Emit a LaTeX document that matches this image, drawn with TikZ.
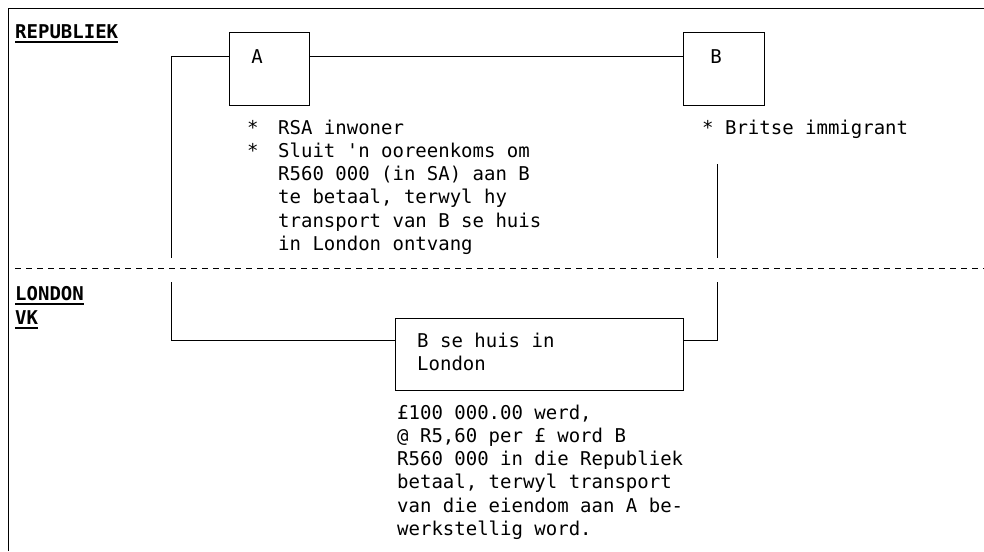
\documentclass[tikz,border=0pt]{standalone}
\usepackage{fontspec}
\setmonofont{DejaVu Sans Mono}
\begin{document}
\begin{tikzpicture}[x=1pt,y=-1pt,
  every node/.style={inner sep=0pt, font=\ttfamily\fontsize{19}{23.3}\selectfont},
  box/.style={draw, line width=1pt, minimum height=72pt},
  conn/.style={line width=1pt},
  frame/.style={line width=1.6pt},
  sepline/.style={line width=1pt, dash pattern=on 6pt off 5pt},
  txt/.style={anchor=base west, align=left},
  hdr/.style={anchor=base west, font=\ttfamily\bfseries\fontsize{19}{23.3}\selectfont},
  uline/.style={line width=1.4pt}]
\useasboundingbox (0,0) rectangle (984,551);
% frame
\coordinate (f1) at (8.5,551);
\coordinate (f2) at (8.5,8.5);
\coordinate (f3) at (984,8.5);
\draw[frame] (f1) -- (f2) -- (f3);
% separator
\coordinate (s1) at (15,268);
\coordinate (s2) at (984,268);
\draw[sepline] (s1) -- (s2);
% headers
\node[hdr] (rep) at (15,38) {REPUBLIEK};
\draw[uline] ([yshift=-4pt]rep.base west) -- ([yshift=-4pt]rep.base east);
\node[hdr] (lon) at (15,300) {LONDON};
\draw[uline] ([yshift=-4pt]lon.base west) -- ([yshift=-4pt]lon.base east);
\node[hdr] (vk) at (15,324) {VK};
\draw[uline] ([yshift=-4pt]vk.base west) -- ([yshift=-4pt]vk.base east);
% boxes
\node[box, minimum width=80pt] (A) at (269,69) {};
\node[box, minimum width=81pt] (B) at (723.5,69) {};
\node[box, minimum width=288pt] (huis) at (539,354) {};
\node (Atxt) at (257,57) {A};
\node (Btxt) at (716,57) {B};
% multi-line texts: anchor is the baseline of the last line
\node[txt] (htxt) at (417,370.3) {B se huis in\\London};
% connectors
\coordinate (aL1) at (171,258);
\coordinate (aL2) at (171,282);
\coordinate (bL1) at (717,164);
\coordinate (bL2) at (717,258);
\coordinate (bL3) at (717,282);
\draw[conn] ([yshift=12pt]A.east) -- ([yshift=12pt]B.west);
\draw[conn] ([yshift=12pt]A.west) -| (aL1);
\draw[conn] (aL2) |- ([yshift=14pt]huis.west);
\draw[conn] (bL1) -- (bL2);
\draw[conn] (bL3) |- ([yshift=14pt]huis.east);
% texts
\node[txt] (st1) at (247,134) {*};
\node[txt] (st2) at (247,157.3) {*};
\node[txt] (atext) at (278,250.5) {RSA inwoner\\Sluit 'n ooreenkoms om\\R560 000 (in SA) aan B\\te betaal, terwyl hy\\transport van B se huis\\in London ontvang};
\node[txt] (btext) at (702,134) {* Britse immigrant};
\node[txt] (htext) at (397,535.5) {£100 000.00 werd,\\@ R5,60 per £ word B\\R560 000 in die Republiek\\betaal, terwyl transport\\van die eiendom aan A be-\\werkstellig word.};
\end{tikzpicture}
\end{document}
